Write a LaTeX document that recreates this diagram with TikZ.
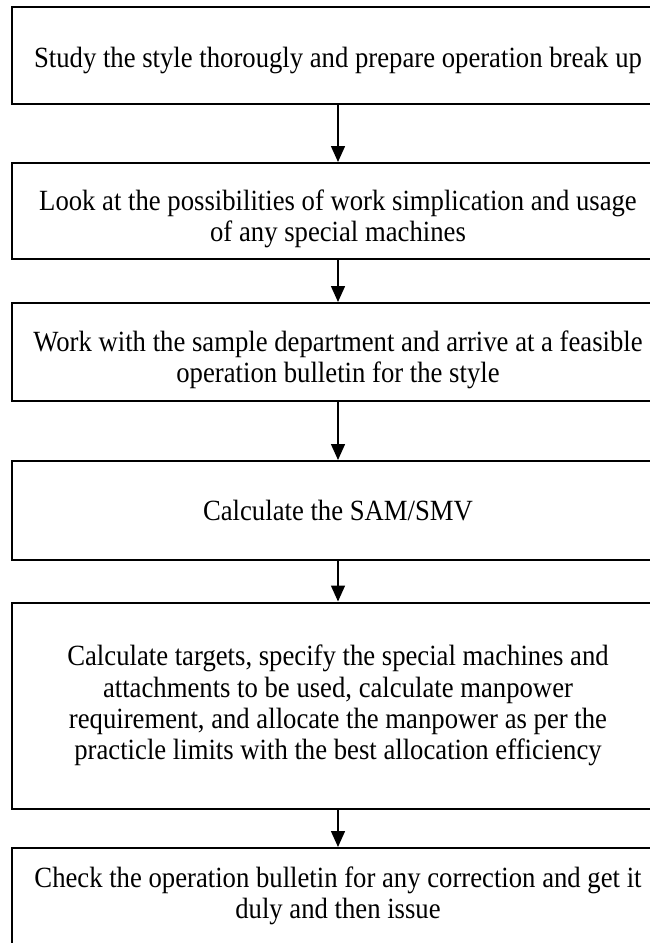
\documentclass[tikz,border=0pt]{standalone}
\usepackage{fontspec}
\setmainfont{Liberation Serif}[FakeStretch=0.91]
\usetikzlibrary{arrows.meta}
\tikzset{
  stepbox/.style={draw=black, line width=1.5pt, minimum width=489pt, inner sep=0pt},
  steptext/.style={align=center, inner sep=0pt, font=\fontsize{22}{23.5}\selectfont},
  flowarrow/.style={draw=black, line width=1.1pt, -{Triangle[width=10.5pt,length=12pt]}}
}
\begin{document}
\begin{tikzpicture}[x=0.75pt,y=-0.75pt]
\useasboundingbox (0,0) rectangle (650,943);
\clip (0,0) rectangle (650,943);
\node[stepbox, minimum height=72.75pt,
  label={[steptext, yshift=-4pt]center:{Study the style thorougly and prepare operation break up}}] (b1) at (338,55.5) {};
\node[stepbox, minimum height=72pt,
  label={[steptext, yshift=-6pt]center:{Look at the possibilities of work simplication and usage\\of any special machines}}] (b2) at (338,211) {};
\node[stepbox, minimum height=73.5pt,
  label={[steptext, yshift=-6pt]center:{Work with the sample department and arrive at a feasible\\operation bulletin for the style}}] (b3) at (338,352) {};
\node[stepbox, minimum height=74.25pt,
  label={[steptext]center:{Calculate the SAM/SMV}}] (b4) at (338,510.5) {};
\node[stepbox, minimum height=154.5pt,
  label={[steptext]center:{Calculate targets, specify the special machines and\\attachments to be used, calculate manpower\\requirement, and allocate the manpower as per the\\practicle limits with the best allocation efficiency}}] (b5) at (338,705.5) {};
\node[stepbox, minimum height=72pt,
  label={[steptext]center:{Check the operation bulletin for any correction and get it\\duly and then issue}}] (b6) at (338,896) {};
\draw[flowarrow] (b1.south) -- (b2.north);
\draw[flowarrow] (b2.south) -- (b3.north);
\draw[flowarrow] (b3.south) -- (b4.north);
\draw[flowarrow] (b4.south) -- (b5.north);
\draw[flowarrow] (b5.south) -- (b6.north);
\end{tikzpicture}
\end{document}
